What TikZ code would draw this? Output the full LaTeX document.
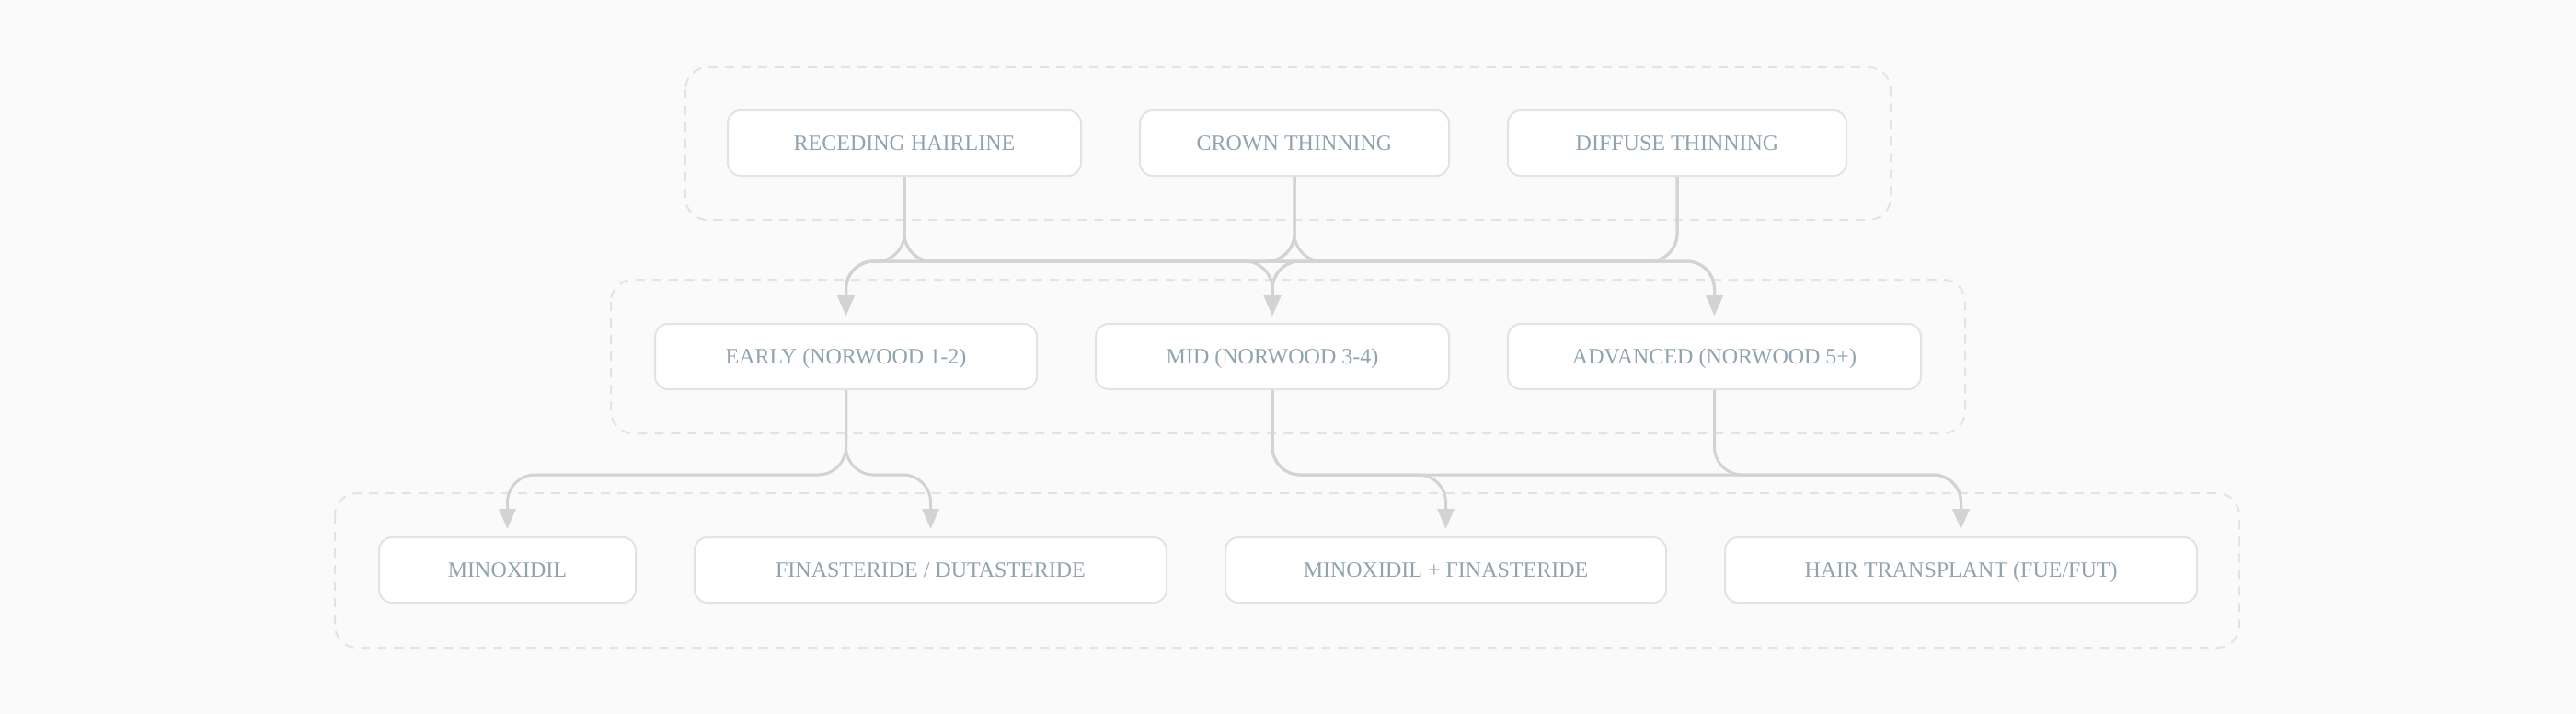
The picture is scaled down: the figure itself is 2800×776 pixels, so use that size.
\documentclass[tikz,border=0pt]{standalone}
\usepackage{fontspec}
\setmainfont{Liberation Serif}
\usetikzlibrary{arrows.meta}
\definecolor{bg}{HTML}{FAFAFA}
\definecolor{bd}{HTML}{E3E3E3}
\definecolor{tx}{HTML}{90A4AE}
\definecolor{ed}{HTML}{D3D3D3}
\begin{document}
\begin{tikzpicture}[x=1pt,y=-1pt,
  box/.style={draw=bd,line width=2pt,fill=white,rounded corners=14pt,minimum height=71pt,inner sep=0pt,text height=18pt,text depth=3pt,text=tx,font=\fontsize{24}{28}\selectfont},
  grp/.style={draw=bd,line width=2pt,dash pattern=on 10pt off 8pt,rounded corners=24pt},
  edge/.style={draw=ed,line width=3pt,rounded corners=30pt,shorten >=8pt,-{Triangle[length=22pt,width=18pt]}}]
\fill[bg] (0,0) rectangle (2800,776);
\useasboundingbox (0,0) rectangle (2800,776);
\draw[grp] (745,73) rectangle (2055,239);
\draw[grp] (664,304) rectangle (2136,471);
\draw[grp] (364,536) rectangle (2434,704);
\node[box,minimum width=384pt] (r) at (983,155.5) {RECEDING HAIRLINE};
\node[box,minimum width=336pt] (c) at (1407,155.5) {CROWN THINNING};
\node[box,minimum width=368pt] (d) at (1823,155.5) {DIFFUSE THINNING};
\node[box,minimum width=415pt] (e) at (919.5,387.5) {EARLY (NORWOOD 1-2)};
\node[box,minimum width=384pt] (m) at (1383,387.5) {MID (NORWOOD 3-4)};
\node[box,minimum width=449pt] (a) at (1863.5,387.5) {ADVANCED (NORWOOD 5+)};
\node[box,minimum width=279pt] (t1) at (551.5,619.5) {MINOXIDIL};
\node[box,minimum width=513pt] (t2) at (1011.5,619.5) {FINASTERIDE / DUTASTERIDE};
\node[box,minimum width=479pt] (t3) at (1571.5,619.5) {MINOXIDIL + FINASTERIDE};
\node[box,minimum width=513pt] (t4) at (2131.5,619.5) {HAIR TRANSPLANT (FUE/FUT)};
\foreach \s/\t in {r/e,r/m,r/a,c/e,c/m,c/a,d/e,d/m}{
  \draw[edge] (\s.south) -- (\s.south |- 0,284) -| (\t.north);}
\draw[edge] (e.south) -- (e.south |- 0,516) -| (t1.north);
\draw[edge] (e.south) -- (e.south |- 0,516) -| (t2.north);
\draw[edge] (m.south) -- (m.south |- 0,516) -| (t3.north);
\draw[edge] (m.south) -- (m.south |- 0,516) -| (t4.north);
\draw[edge] (a.south) -- (a.south |- 0,516) -| (t4.north);
\end{tikzpicture}
\end{document}
